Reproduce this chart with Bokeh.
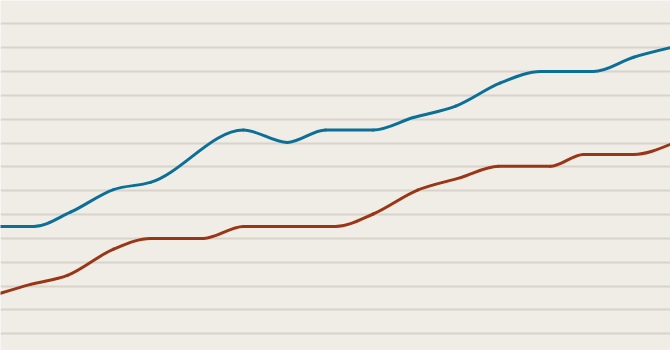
from bokeh.plotting import figure
from bokeh.models import ColumnDataSource, FixedTicker, Range1d
from bokeh.embed import file_html
from bokeh.resources import INLINE

# Data (time index, value); gridlines every 2 units
blue_t = [0, 0.79, 1.67, 2.7, 3.58, 5.8, 6.85, 7.76, 8.9, 9.86, 10.87, 11.94, 12.9, 14.16, 15.12, 16]
blue_v = [11.0, 11.0, 12.2, 14.1, 14.7, 19.1, 18.05, 19.1, 19.1, 20.15, 21.1, 23.05, 24.0, 24.0, 25.2, 26.0]
red_t = [0, 0.72, 1.6, 2.7, 3.58, 4.85, 5.8, 8.0, 8.9, 9.96, 10.99, 11.89, 13.13, 13.92, 15.12, 16]
red_v = [5.4, 6.15, 6.9, 9.1, 10.0, 10.0, 11.0, 11.0, 12.05, 14.05, 15.1, 16.05, 16.05, 17.05, 17.05, 17.9]
grid_ticks = [2, 4, 6, 8, 10, 12, 14, 16, 18, 20, 22, 24, 26, 28]


def monotone_bezier(xs, ys):
    n = len(xs)
    h = [xs[i + 1] - xs[i] for i in range(n - 1)]
    s = [(ys[i + 1] - ys[i]) / h[i] for i in range(n - 1)]
    t = [0.0] * n

    def sign(a):
        return (a > 0) - (a < 0)

    for i in range(1, n - 1):
        s0, s1 = s[i - 1], s[i]
        h0, h1 = h[i - 1], h[i]
        p = (s0 * h1 + s1 * h0) / (h0 + h1)
        t[i] = (sign(s0) + sign(s1)) * min(abs(s0), abs(s1), 0.5 * abs(p))
    t[0] = (3 * s[0] - t[1]) / 2
    t[-1] = (3 * s[-1] - t[-2]) / 2
    d = dict(x0=[], y0=[], x1=[], y1=[], cx0=[], cy0=[], cx1=[], cy1=[])
    for i in range(n - 1):
        dx = h[i] / 3
        d["x0"].append(xs[i]); d["y0"].append(ys[i])
        d["x1"].append(xs[i + 1]); d["y1"].append(ys[i + 1])
        d["cx0"].append(xs[i] + dx); d["cy0"].append(ys[i] + dx * t[i])
        d["cx1"].append(xs[i + 1] - dx); d["cy1"].append(ys[i + 1] - dx * t[i + 1])
    return ColumnDataSource(d)


p = figure(width=670, height=350, output_backend="svg", toolbar_location=None,
           x_range=Range1d(0, 16), y_range=Range1d(0.6, 29.96), min_border=0)
p.background_fill_color = "#f0ede7"
p.border_fill_color = "#f0ede7"
p.outline_line_color = None
p.xaxis.visible = False
p.yaxis.visible = False
p.xgrid.visible = False
p.ygrid.ticker = FixedTicker(ticks=grid_ticks)
p.ygrid.grid_line_color = "#d8d4cc"
p.ygrid.grid_line_width = 2

for xs, ys, col in [(red_t, red_v, "#9a3616"), (blue_t, blue_v, "#0b6f98")]:
    src = monotone_bezier(xs, ys)
    p.bezier(x0="x0", y0="y0", x1="x1", y1="y1", cx0="cx0", cy0="cy0",
             cx1="cx1", cy1="cy1", source=src, line_color=col, line_width=3,
             line_cap="round")

open("out.html", "w").write(file_html(p, INLINE))
